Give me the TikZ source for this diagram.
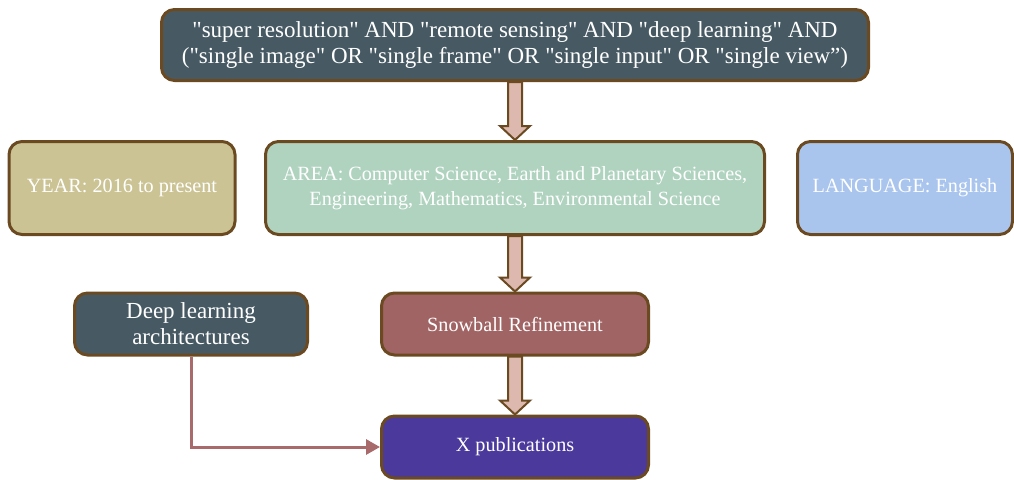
\documentclass[tikz,border=0pt]{standalone}
\usepackage{fontspec}
\setmainfont{Liberation Serif}[Ligatures=TeXOff]
\usetikzlibrary{calc,arrows.meta}
\definecolor{rim}{HTML}{6B4A22}
\definecolor{slate}{HTML}{475A64}
\definecolor{khaki}{HTML}{CBC394}
\definecolor{mint}{HTML}{B0D3BF}
\definecolor{sky}{HTML}{A9C5EE}
\definecolor{brick}{HTML}{A06464}
\definecolor{indigo}{HTML}{4B3A9C}
\definecolor{blush}{HTML}{DDB8AF}
\definecolor{rose}{HTML}{A86A6A}
\newcommand\fatarrow[2]{\draw[fat] let \p1=(#1.south),\p2=(#2.north) in
  (\x1-7pt,\y1)--(\x1-7pt,\y2+14pt)--(\x1-15pt,\y2+14pt)--(\x1,\y2)
  --(\x1+15pt,\y2+14pt)--(\x1+7pt,\y2+14pt)--(\x1+7pt,\y1)--cycle;}
\begin{document}
\begin{tikzpicture}[x=1pt,y=-1pt,
box/.style={draw=rim,line width=3pt,rounded corners=13pt,text=white,align=center,inner sep=0pt},
small/.style={font=\fontsize{20.2}{25}\selectfont},
big/.style={font=\fontsize{23}{26}\selectfont},
fat/.style={draw=rim,fill=blush,line width=2pt},
link/.style={draw=rose,line width=3pt,-{Triangle[length=14pt,width=15pt]}}]
\useasboundingbox(0,0)rectangle(1014,479);
\node[box,big,fill=slate,minimum width=707pt,minimum height=71pt](query)at(515,45)
{"super resolution" AND "remote sensing" AND "deep learning" AND\\("single image" OR "single frame" OR "single input" OR "single view”)};
\node[box,small,fill=khaki,minimum width=226pt,minimum height=93pt](year)at(122,188){YEAR: 2016 to present};
\node[box,small,fill=mint,minimum width=499pt,minimum height=93pt](area)at(515,188)
{AREA: Computer Science, Earth and Planetary Sciences,\\Engineering, Mathematics, Environmental Science};
\node[box,small,fill=sky,minimum width=215pt,minimum height=93pt](lang)at(905,188){LANGUAGE: English};
\node[box,big,fill=slate,minimum width=233pt,minimum height=62pt](arch)at(191,324)
{Deep learning\\architectures};
\node[box,small,fill=brick,minimum width=267pt,minimum height=62pt](snow)at(515,324){Snowball Refinement};
\node[box,small,fill=indigo,minimum width=267pt,minimum height=62pt](pubs)at(515,447){X publications};
\fatarrow{query}{area}
\fatarrow{area}{snow}
\fatarrow{snow}{pubs}
\draw[link](arch.south)|-(pubs.west);
\end{tikzpicture}
\end{document}
